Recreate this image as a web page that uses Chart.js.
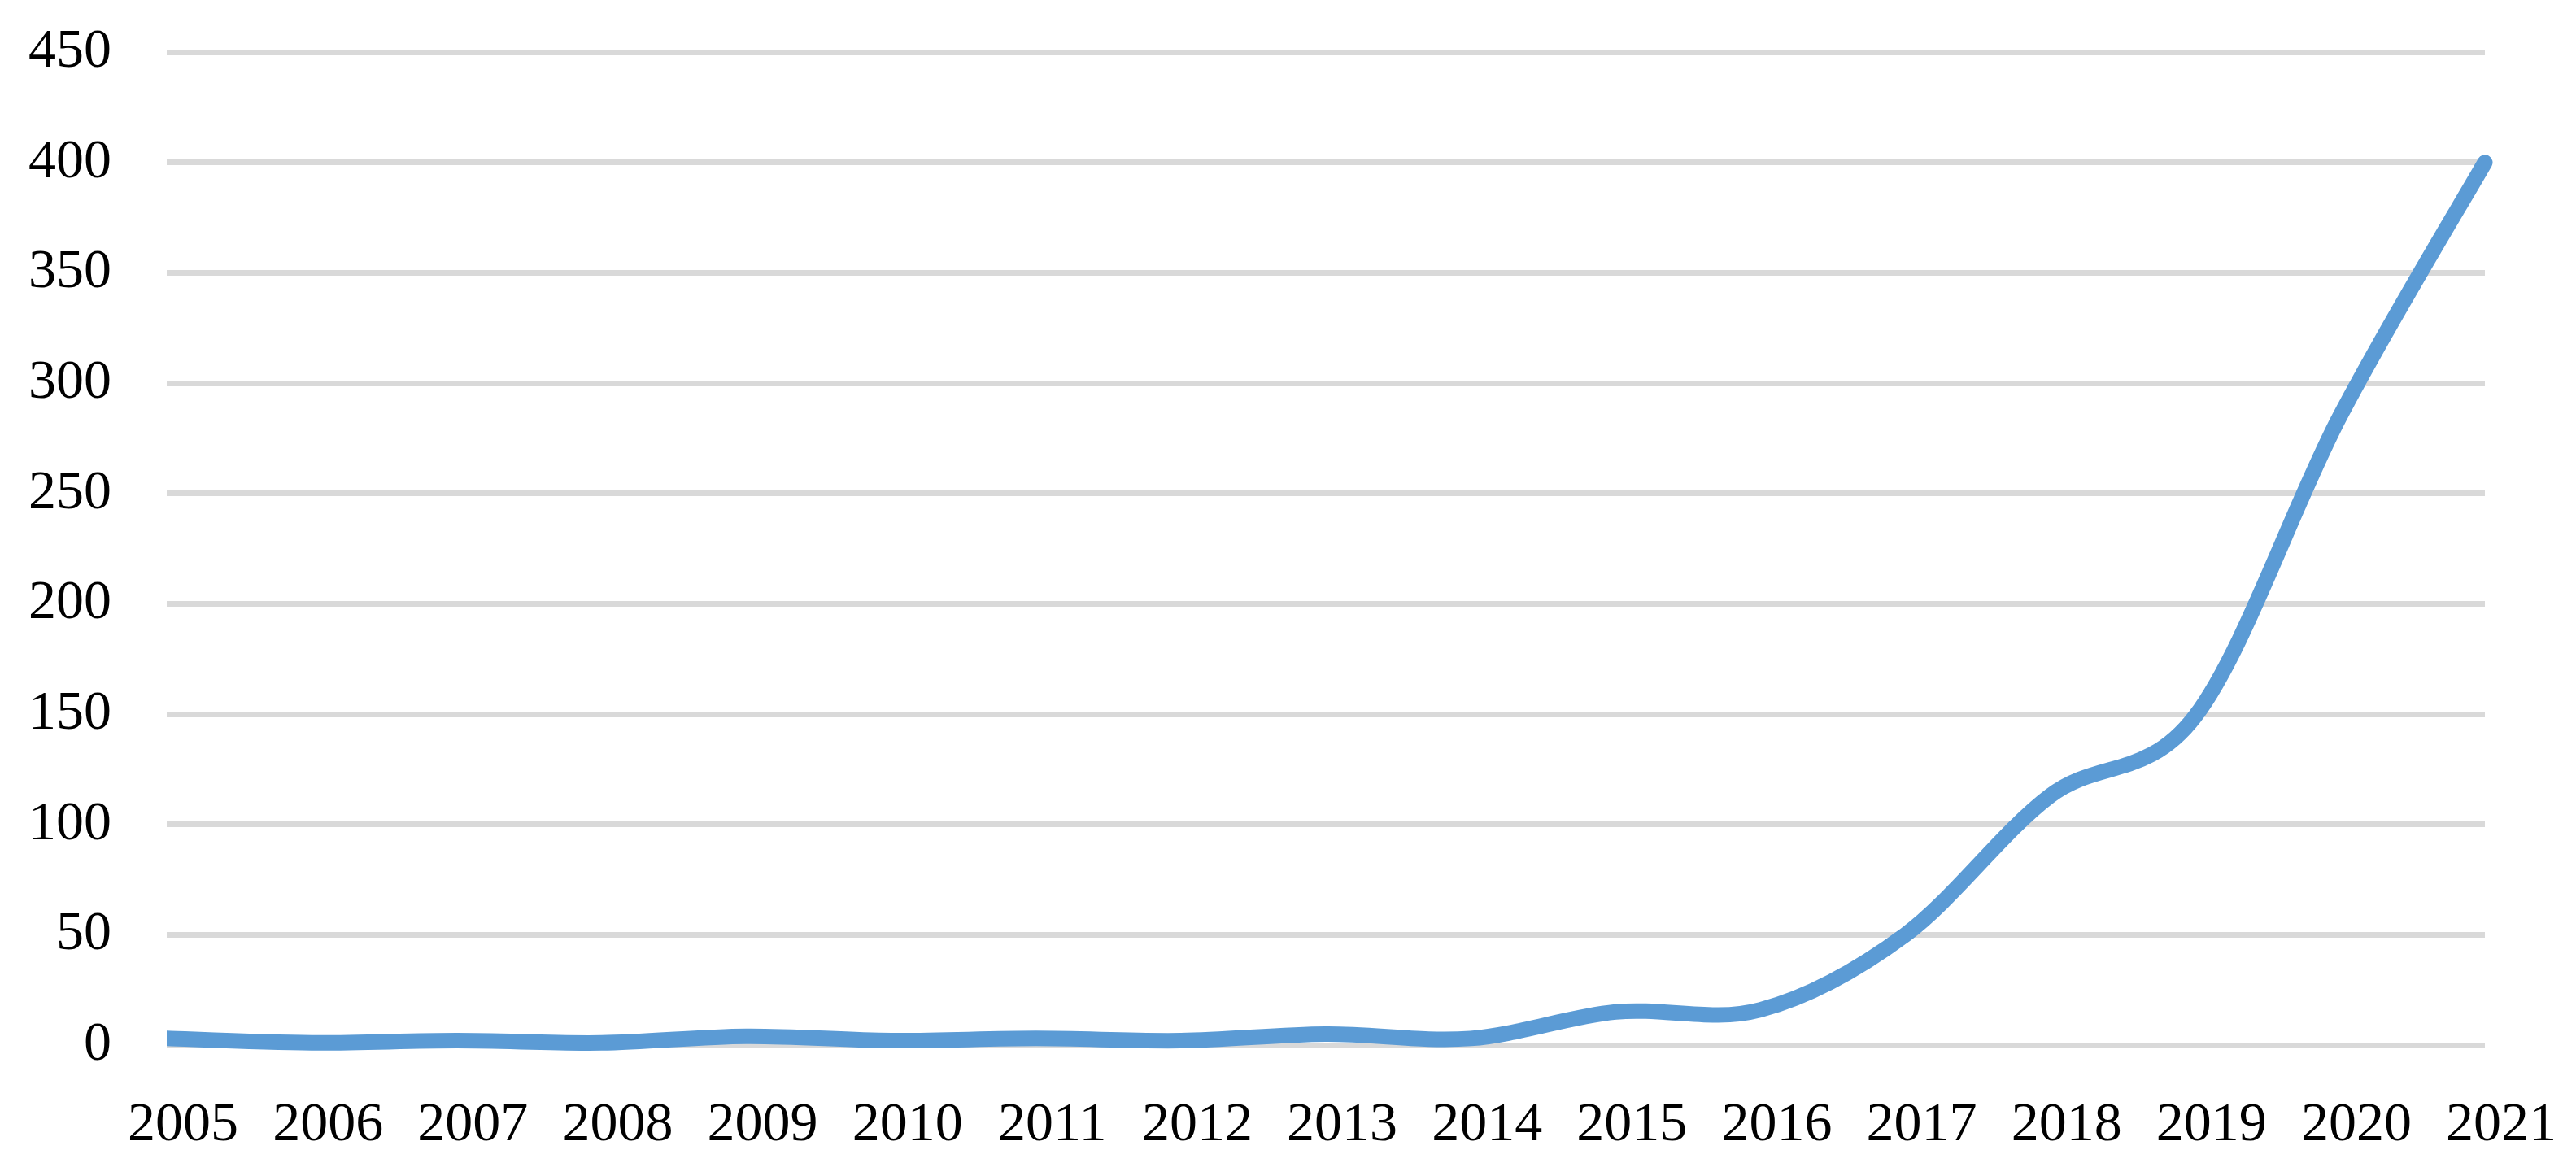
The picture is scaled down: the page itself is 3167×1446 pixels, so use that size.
<!DOCTYPE html>
<html>
<head>
<meta charset="utf-8">
<script src="https://cdn.jsdelivr.net/npm/chart.js@4/dist/chart.umd.min.js"></script>
<style>
  html, body { margin: 0; padding: 0; background: #ffffff; }
  #wrap { width: 3167px; height: 1446px; }
</style>
</head>
<body>
<div id="wrap"><canvas id="c" width="3167" height="1446"></canvas></div>
<script>
const years = ["2005","2006","2007","2008","2009","2010","2011","2012","2013","2014","2015","2016","2017","2018","2019","2020","2021"];
const counts = [3, 1, 2, 1, 4, 2, 3, 2, 5, 3, 15, 16, 50, 113, 149, 285, 400];
const yTicks = [0, 50, 100, 150, 200, 250, 300, 350, 400, 450];

const FONT = { family: "'Liberation Serif', 'Times New Roman', serif", size: 68 };

// Excel-like smoothing: uniform Catmull-Rom control points for the line the library draws
const excelSmooth = {
  id: 'excelSmooth',
  beforeDatasetDraw(chart, args) {
    const line = args.meta.dataset;
    if (!line) return;
    line.updateControlPoints(chart.chartArea, 'x');
    const pts = args.meta.data;
    const n = pts.length;
    for (let i = 0; i < n; i++) {
      const p = pts[i];
      const prev = pts[Math.max(i - 1, 0)];
      const next = pts[Math.min(i + 1, n - 1)];
      const dx = (next.x - prev.x) / 6;
      const dy = (next.y - prev.y) / 6;
      p.cp1x = p.x - dx; p.cp1y = p.y - dy;
      p.cp2x = p.x + dx; p.cp2y = p.y + dy;
    }
    line._path = undefined;
  }
};

new Chart(document.getElementById('c'), {
  type: 'line',
  data: {
    labels: years,
    datasets: [{
      data: counts,
      borderColor: '#5B9BD5',
      backgroundColor: '#5B9BD5',
      borderWidth: 19,
      borderCapStyle: 'round',
      borderJoinStyle: 'round',
      pointRadius: 0,
      pointHoverRadius: 0,
      tension: 0.33,
      fill: false,
      clip: { left: 0, right: 20, top: 20, bottom: 20 }
    }]
  },
  plugins: [excelSmooth],
  options: {
    responsive: false,
    devicePixelRatio: 1,
    animation: false,
    events: [],
    layout: { padding: { left: 0, right: 112, top: 64, bottom: 0 } },
    plugins: { legend: { display: false }, tooltip: { enabled: false }, title: { display: false } },
    scales: {
      x: {
        type: 'category',
        offset: false,
        grid: { display: false, drawTicks: false },
        border: { display: false },
        ticks: {
          color: '#000000',
          font: FONT,
          padding: 58,
          labelOffset: 20,
          maxRotation: 0,
          minRotation: 0,
          autoSkip: false
        },
        afterFit: (s) => { s.height = 161; s.paddingLeft = 0; s.paddingRight = 0; }
      },
      y: {
        min: 0,
        max: 450,
        afterBuildTicks: (s) => { s.ticks = yTicks.map(v => ({ value: v })); },
        grid: { color: '#D9D9D9', lineWidth: 7, drawTicks: false },
        border: { display: false },
        ticks: {
          color: '#000000',
          font: FONT,
          padding: 68,
          stepSize: 50
        },
        afterFit: (s) => { s.width = 205; s.paddingTop = 0; s.paddingBottom = 0; }
      }
    }
  }
});
</script>
</body>
</html>
